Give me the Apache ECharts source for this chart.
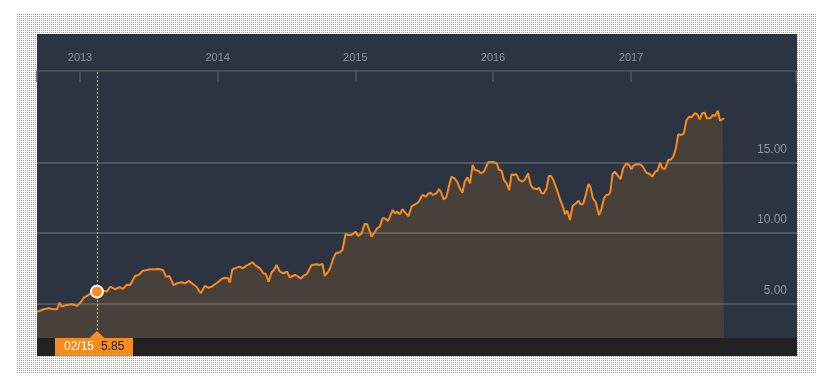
<!DOCTYPE html>
<html>
<head>
<meta charset="utf-8">
<script src="https://cdn.jsdelivr.net/npm/echarts@6/dist/echarts.min.js"></script>
<style>
  html, body { margin: 0; padding: 0; width: 829px; height: 390px; overflow: hidden; background: #fff; }
  #frame { position: absolute; left: 17px; top: 14px; width: 800px; height: 360px;
    background-color: #fff;
    background-image: url("data:image/svg+xml;utf8,<svg xmlns='http://www.w3.org/2000/svg' width='2' height='2' shape-rendering='crispEdges'><rect x='0' y='0' width='1' height='1' fill='%23ee8a2c'/></svg>");
    background-size: 2px 2px; image-rendering: pixelated; }
  #panel { position: absolute; left: 37px; top: 34px; width: 760px; height: 322px; background: #2b3440; }
  #bar { position: absolute; left: 37px; top: 338px; width: 760px; height: 18px; background: #222222; }
  #chart { position: absolute; left: 0; top: 0; width: 829px; height: 390px; }
</style>
</head>
<body>
<div id="frame"></div>
<div id="panel"></div>
<div id="bar"></div>
<div id="chart"></div>
<script>
// ---- data ----
const dates = [
'2012-09-09','2012-09-27','2012-10-10','2012-10-23','2012-11-01','2012-11-08','2012-11-14','2012-11-27','2012-12-11','2012-12-24',
'2013-01-02','2013-01-11','2013-01-24','2013-02-01','2013-02-15','2013-03-04','2013-03-13','2013-03-22','2013-04-04','2013-04-16',
'2013-04-25','2013-05-05','2013-05-14','2013-05-27','2013-06-05','2013-06-17','2013-06-27','2013-07-06','2013-07-19','2013-07-28',
'2013-08-09','2013-08-17','2013-08-26','2013-09-06','2013-09-15','2013-09-28','2013-10-06','2013-10-17','2013-10-28','2013-11-06',
'2013-11-17','2013-11-28','2013-12-07','2013-12-16','2013-12-29','2014-01-11','2014-01-20','2014-01-29','2014-02-02','2014-02-09',
'2014-02-20','2014-03-01','2014-03-08','2014-03-17','2014-03-23','2014-04-03','2014-04-12','2014-04-23','2014-05-02','2014-05-09',
'2014-05-16','2014-05-24','2014-05-30','2014-06-06','2014-06-15','2014-06-24','2014-07-04','2014-07-11','2014-07-25','2014-07-31',
'2014-08-09','2014-08-16','2014-08-25','2014-09-07','2014-09-20','2014-09-29','2014-10-06','2014-10-12','2014-10-21','2014-10-26',
'2014-11-03','2014-11-10','2014-11-21','2014-11-28','2014-12-06','2014-12-13','2014-12-22','2014-12-26','2015-01-02','2015-01-08',
'2015-01-17','2015-01-26','2015-02-01','2015-02-07','2015-02-13','2015-02-22','2015-02-28','2015-03-07','2015-03-14','2015-03-20',
'2015-03-29','2015-04-10','2015-04-16','2015-04-22','2015-04-29','2015-05-06','2015-05-15','2015-05-22','2015-05-30','2015-06-08',
'2015-06-17','2015-06-21','2015-06-28','2015-07-07','2015-07-13','2015-07-19','2015-07-26','2015-08-04','2015-08-11','2015-08-17',
'2015-08-23','2015-08-30','2015-09-08','2015-09-13','2015-09-21','2015-09-28','2015-10-05','2015-10-12','2015-10-18','2015-10-25',
'2015-11-01','2015-11-08','2015-11-14','2015-11-23','2015-11-29','2015-12-08','2015-12-13','2015-12-19','2016-01-02','2016-01-11',
'2016-01-17','2016-01-24','2016-01-30','2016-02-06','2016-02-13','2016-02-19','2016-02-25','2016-03-03','2016-03-10','2016-03-19',
'2016-03-26','2016-04-03','2016-04-10','2016-04-17','2016-04-26','2016-05-02','2016-05-09','2016-05-15','2016-05-22','2016-05-28',
'2016-06-03','2016-06-09','2016-06-18','2016-06-26','2016-07-05','2016-07-10','2016-07-16','2016-07-23','2016-07-30','2016-08-08',
'2016-08-15','2016-08-20','2016-08-27','2016-09-03','2016-09-10','2016-09-15','2016-09-22','2016-09-29','2016-10-08','2016-10-14',
'2016-10-21','2016-10-28','2016-11-03','2016-11-07','2016-11-13','2016-11-19','2016-11-28','2016-12-04','2016-12-11','2016-12-20',
'2016-12-27','2017-01-02','2017-01-06','2017-01-16','2017-01-24','2017-01-31','2017-02-05','2017-02-11','2017-02-20','2017-02-26',
'2017-03-06','2017-03-12','2017-03-19','2017-03-25','2017-04-01','2017-04-10','2017-04-17','2017-04-23','2017-04-30','2017-05-06',
'2017-05-15','2017-05-21','2017-05-28','2017-06-04','2017-06-10','2017-06-19','2017-06-25','2017-07-02','2017-07-09','2017-07-15',
'2017-07-21','2017-07-30','2017-08-06','2017-08-12','2017-08-19','2017-08-25','2017-08-31','2017-09-05'
];
const values = [
4.43,4.60,4.67,4.60,4.60,5.07,4.79,4.91,4.96,4.84,
5.07,5.42,5.62,5.78,5.85,5.92,5.85,6.20,6.02,6.16,
6.04,6.34,6.32,6.96,7.03,7.33,7.38,7.43,7.43,7.45,
7.38,6.91,6.96,6.32,6.44,6.51,6.44,6.61,6.37,6.20,
5.74,6.25,6.13,6.20,6.44,6.73,6.84,6.80,6.49,7.43,
7.55,7.62,7.50,7.67,7.74,7.93,7.69,7.50,7.15,7.10,
6.56,7.22,7.38,7.74,7.26,7.15,7.26,6.87,7.03,6.96,
6.77,6.96,7.08,7.74,7.79,7.74,7.81,6.96,7.26,7.50,
8.16,8.56,8.64,8.80,9.93,9.86,9.86,9.79,10.09,9.79,
9.93,10.64,10.64,10.21,9.74,10.09,10.33,10.45,11.04,11.04,
10.85,11.63,11.39,11.51,11.32,11.68,11.39,11.20,11.86,12.03,
12.17,12.17,12.69,12.57,12.76,12.85,12.69,12.81,13.11,12.85,
12.38,12.52,13.51,13.98,13.87,13.63,13.16,12.85,13.63,13.94,
13.51,14.81,14.46,14.41,14.22,14.34,14.46,15.00,15.02,14.93,
14.46,14.41,13.75,13.51,13.04,14.15,14.10,14.15,13.75,13.63,
13.80,14.22,13.39,13.16,13.09,13.20,12.81,12.81,13.16,14.03,
14.03,13.75,13.09,12.45,11.82,11.32,11.58,10.92,11.91,12.10,
12.28,12.03,12.05,12.69,13.47,13.27,12.45,12.21,11.27,11.63,
12.45,12.69,12.72,12.90,14.17,14.34,14.03,13.80,14.58,14.93,
14.81,14.50,14.74,14.88,14.86,14.74,14.76,14.26,14.17,13.98,
14.34,14.41,14.97,14.58,14.53,15.16,15.21,15.40,15.99,16.98,
16.93,17.05,17.99,18.22,18.18,18.47,18.42,18.04,18.47,18.51,
18.11,18.11,18.35,18.27,18.65,17.94,18.04,18.11
];
const yearTicks = ['2013-01-01','2014-01-01','2015-01-01','2016-01-01','2017-01-01'];
const yTicks = [5, 10, 15];
const xMin = '2012-09-09';
const xMax = '2018-03-17';
const xEndTick = '2018-03-13';
const yMin = 2.57;
const yMax = 21.46;
const markerDate = '2013-02-15';
const markerValue = 5.85;

// ---- chart ----
const ORANGE = '#f68b1f';
const toTime = s => { const p = s.split('-').map(Number); return new Date(p[0], p[1] - 1, p[2]).getTime(); };
const seriesData = dates.map((d, i) => [toTime(d), values[i]]);

const chart = echarts.init(document.getElementById('chart'), null, { renderer: 'canvas' });
const option = {
  animation: false,
  backgroundColor: 'transparent',
  textStyle: { fontFamily: 'Liberation Sans, Arial, sans-serif' },
  grid: { left: 37, top: 71, width: 760, height: 267, containLabel: false },
  xAxis: {
    type: 'value',
    position: 'top',
    min: toTime(xMin),
    max: toTime(xMax),
    axisLine: { show: true, lineStyle: { color: '#52575d', width: 1.5 } },
    axisTick: {
      show: true, inside: true, length: 11,
      lineStyle: { color: '#52575d', width: 1.5 },
      customValues: [toTime(xMin)].concat(yearTicks.map(toTime), [toTime(xEndTick)])
    },
    axisLabel: {
      show: true, margin: 8, color: '#8a939c', fontSize: 11,
      customValues: yearTicks.map(toTime),
      formatter: v => String(new Date(v).getFullYear())
    },
    splitLine: { show: false }
  },
  yAxis: {
    type: 'value',
    position: 'right',
    min: yMin,
    max: yMax,
    axisLine: { show: false },
    axisTick: { show: false, customValues: yTicks },
    axisLabel: {
      show: true, inside: true, margin: 10, color: '#8f98a2', fontSize: 12,
      customValues: yTicks,
      verticalAlign: 'bottom', lineHeight: 12, padding: [0, 0, 7, 0],
      formatter: v => v.toFixed(2)
    },
    splitLine: { show: true, lineStyle: { color: 'rgba(255,255,255,0.17)', width: 2 } }
  },
  series: [
    {
      type: 'line',
      data: seriesData,
      showSymbol: false,
      symbol: 'none',
      lineStyle: { color: ORANGE, width: 2 },
      itemStyle: { color: ORANGE },
      areaStyle: { color: 'rgba(250,140,25,0.2)', origin: 'start' },
      markLine: {
        silent: true,
        symbol: 'none',
        label: { show: false },
        emphasis: { disabled: true },
        lineStyle: { color: '#f2a116', type: [2, 2], width: 1.2, opacity: 1 },
        data: [{ xAxis: toTime(markerDate) }]
      },
      z: 3
    },
    {
      type: 'scatter',
      data: [[toTime(markerDate), markerValue]],
      symbol: 'circle',
      symbolSize: 12,
      itemStyle: { color: ORANGE, borderColor: '#ffffff', borderWidth: 2, opacity: 1 },
      z: 10
    }
  ]
};
chart.setOption(option);

// Tooltip-like box below the plot at the marked date
const p = chart.convertToPixel({ xAxisIndex: 0, yAxisIndex: 0 }, [toTime(markerDate), markerValue]);
const bottomY = chart.convertToPixel({ yAxisIndex: 0 }, yMin);
const md = markerDate.split('-');
const dateLabel = md[1] + '/' + md[2];
chart.setOption({
  graphic: [
    {
      type: 'group', z: 100,
      children: [
        { type: 'rect', shape: { x: p[0] - 42, y: bottomY, width: 78, height: 18 }, style: { fill: ORANGE } },
        { type: 'polygon', shape: { points: [[p[0] - 8, bottomY + 0.5], [p[0] + 8, bottomY + 0.5], [p[0], bottomY - 7]] }, style: { fill: ORANGE } },
        { type: 'text', x: p[0] - 33, y: bottomY + 9, style: { text: dateLabel, fill: '#ffffff', font: '12px Liberation Sans, Arial, sans-serif', verticalAlign: 'middle', align: 'left' } },
        { type: 'text', x: p[0] + 4, y: bottomY + 9, style: { text: markerValue.toFixed(2), fill: '#1e1e1e', font: '12px Liberation Sans, Arial, sans-serif', verticalAlign: 'middle', align: 'left' } }
      ]
    }
  ]
});
</script>
</body>
</html>
